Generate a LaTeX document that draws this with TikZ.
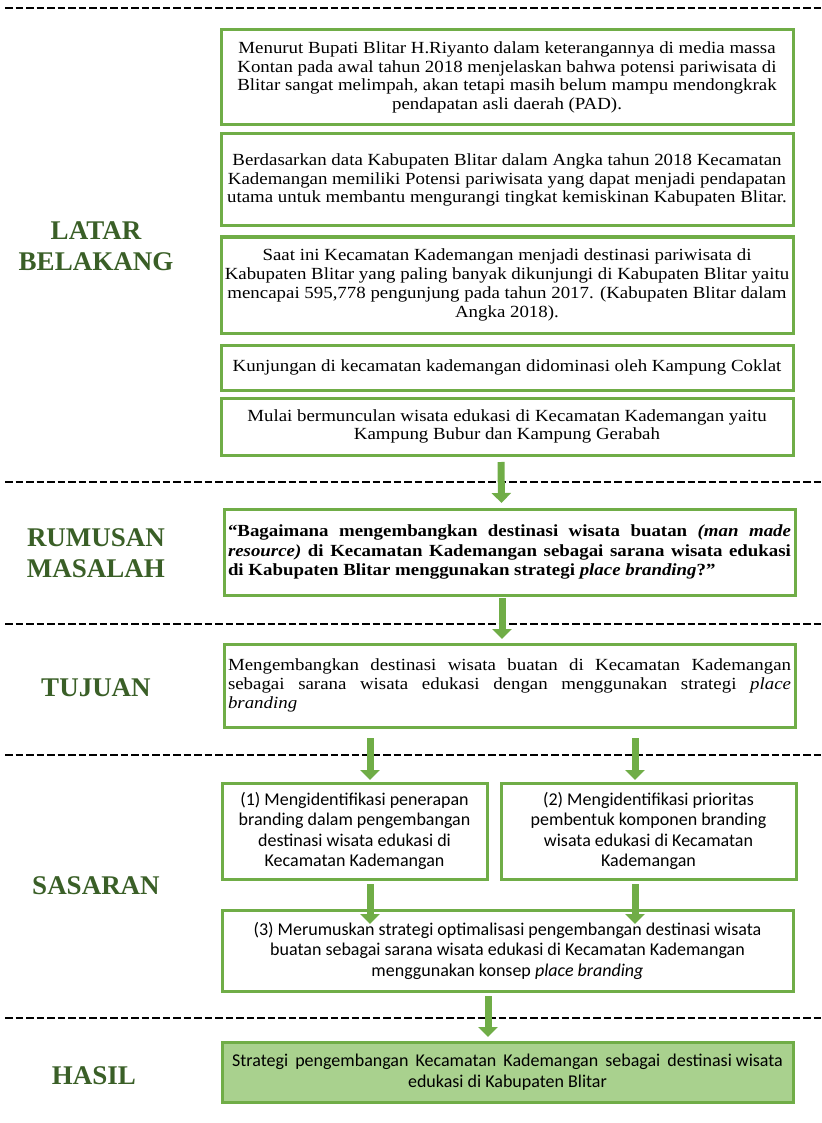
\documentclass[tikz,border=0pt]{standalone}
\usepackage{fontspec}
\setmainfont{Liberation Serif}
\newfontfamily\bodyf[FakeStretch=1.11,Ligatures=TeX]{Liberation Serif}
\newfontfamily\sasf[Ligatures=TeX]{Carlito}
\usetikzlibrary{arrows.meta}
\definecolor{gbord}{HTML}{70AD47}
\definecolor{gfill}{HTML}{A9D18E}
\definecolor{glab}{HTML}{3A5F27}
\begin{document}
\begin{tikzpicture}[x=1pt,y=-1pt,
  box/.style={draw=gbord, line width=3pt, rectangle, inner sep=0pt, outer sep=0pt,
    anchor=north west, align=center, font=\bodyf\fontsize{17}{18.8}\selectfont},
  jbox/.style={box, inner xsep=4pt, text width=563pt, align=justify},
  sbox/.style={box, font=\sasf\fontsize{18}{20.5}\selectfont},
  lab/.style={text=glab, align=center, font=\bfseries\fontsize{27}{31.5}\selectfont},
  sep/.style={line width=2.5pt, dash pattern=on 7.5pt off 3pt},
  arr/.style={draw=gbord, line width=7pt, -{Triangle[width=19pt,length=10pt]}, gbord}
]
\useasboundingbox (0,0) rectangle (821,1123);
% section separators
\foreach \yy in {8,482,624,755,1018}{
  \draw[sep] (5,\yy) -- (821,\yy);
}
% labels
\node[lab] (lLB) at (96,246) {LATAR\\BELAKANG};
\node[lab] (lRM) at (96,553) {RUMUSAN\\MASALAH};
\node[lab] (lTJ) at (96,688) {TUJUAN};
\node[lab] (lSS) at (96,886) {SASARAN};
\node[lab] (lHS) at (94,1076) {HASIL};
% latar belakang boxes
\node[box, minimum width=572pt, minimum height=95pt] (b1) at (221,30)
 {Menurut Bupati Blitar H.Riyanto dalam keterangannya di media massa\\
  Kontan pada awal tahun 2018 menjelaskan bahwa potensi pariwisata di\\
  Blitar sangat melimpah, akan tetapi masih belum mampu  mendongkrak\\
  pendapatan asli daerah (PAD).};
\node[box, minimum width=572pt, minimum height=92pt] (b2) at (221,134)
 {Berdasarkan data Kabupaten Blitar dalam Angka tahun 2018 Kecamatan\\
  Kademangan memiliki Potensi pariwisata yang dapat menjadi pendapatan\\
  utama untuk membantu mengurangi tingkat kemiskinan Kabupaten Blitar.};
\node[box, minimum width=572pt, minimum height=96pt] (b3) at (221,237)
 {Saat ini Kecamatan Kademangan menjadi destinasi pariwisata di\\
  Kabupaten Blitar yang paling banyak dikunjungi di Kabupaten Blitar yaitu\\
  mencapai 595,778 pengunjung pada tahun 2017. (Kabupaten Blitar dalam\\
  Angka 2018).};
\node[box, minimum width=572pt, minimum height=45pt] (b4) at (221,345)
 {Kunjungan di kecamatan kademangan didominasi oleh Kampung Coklat};
\node[box, minimum width=572pt, minimum height=57pt] (b5) at (221,398)
 {Mulai bermunculan wisata edukasi di Kecamatan Kademangan yaitu\\
  Kampung Bubur dan Kampung Gerabah};
% rumusan
\node[jbox, minimum height=86pt, font=\bodyf\bfseries\fontsize{17}{19.5}\selectfont] (rm) at (224,509)
 {“Bagaimana mengembangkan destinasi wisata buatan \textit{(man made}\linebreak
  \textit{resource)} di Kecamatan Kademangan sebagai sarana wisata edukasi\linebreak
  di Kabupaten Blitar menggunakan strategi \textit{place branding}?”};
% tujuan
\node[jbox, minimum height=83pt] (tj) at (224,644)
 {Mengembangkan destinasi wisata buatan di Kecamatan Kademangan\linebreak
  sebagai sarana wisata edukasi dengan menggunakan strategi \textit{place}\linebreak
  \textit{branding}};
% sasaran
\node[sbox, minimum width=265pt, minimum height=96pt] (s1) at (222,783)
 {(1) Mengidentifikasi penerapan\\branding dalam pengembangan\\destinasi wisata edukasi di\\Kecamatan Kademangan};
\node[sbox, minimum width=295pt, minimum height=96pt] (s2) at (501,783)
 {(2) Mengidentifikasi prioritas\\pembentuk komponen branding\\wisata edukasi di Kecamatan\\Kademangan};
\node[sbox, minimum width=571pt, minimum height=81pt] (s3) at (222,910)
 {(3) Merumuskan strategi optimalisasi pengembangan destinasi wisata\\
  buatan sebagai sarana wisata edukasi di Kecamatan Kademangan\\
  menggunakan konsep \textit{place branding}};
% hasil
\node[sbox, fill=gfill, minimum width=571pt, minimum height=60pt] (hs) at (222,1042)
 {Strategi\hspace{3pt} pengembangan\hspace{3pt} Kecamatan\hspace{3pt} Kademangan\hspace{3pt} sebagai\hspace{3pt} destinasi wisata\\
  edukasi di Kabupaten Blitar};
% arrows
\draw[arr] ([xshift=-6pt,yshift=-7pt]b5.south) -- ([xshift=-8pt,yshift=6pt]rm.north);
\draw[arr] ([xshift=-7.5pt,yshift=-3pt]rm.south) -- ([xshift=-7.5pt,yshift=5pt]tj.north);
\draw[arr] ([xshift=-139.5pt,yshift=-11pt]tj.south) -- ([xshift=15.5pt,yshift=3pt]s1.north);
\draw[arr] ([xshift=125.5pt,yshift=-11pt]tj.south) -- ([xshift=-13.5pt,yshift=3pt]s2.north);
\draw[arr] ([xshift=15.5pt,yshift=-5pt]s1.south) -- ([xshift=-137.5pt,yshift=-14pt]s3.north);
\draw[arr] ([xshift=-13.5pt,yshift=-5pt]s2.south) -- ([xshift=127.5pt,yshift=-14pt]s3.north);
\draw[arr] ([xshift=-19.5pt,yshift=-5pt]s3.south) -- ([xshift=-19.5pt,yshift=5pt]hs.north);
\end{tikzpicture}
\end{document}
